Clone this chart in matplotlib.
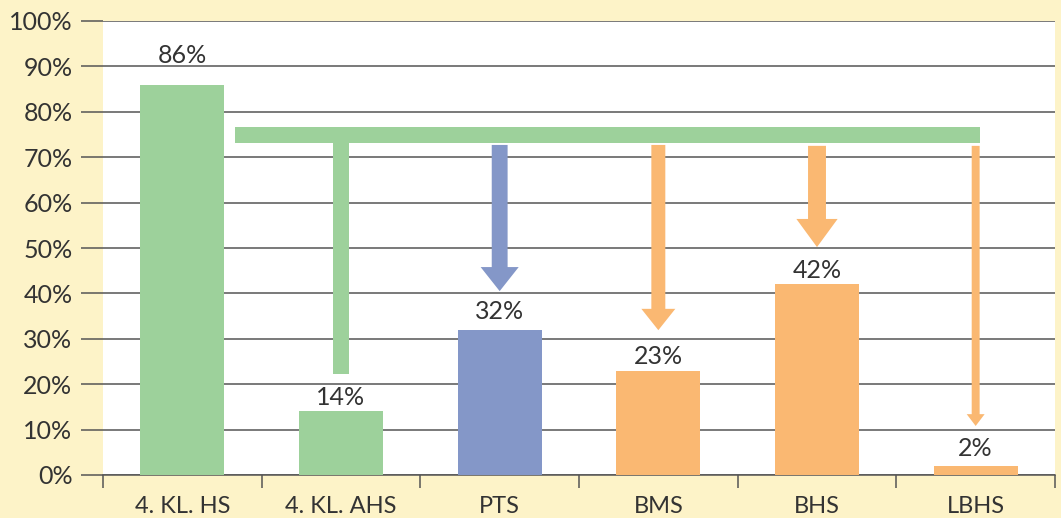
import matplotlib.pyplot as plt
from matplotlib.patches import Polygon

# Daten
kategorien = ['4. KL. HS', '4. KL. AHS', 'PTS', 'BMS', 'BHS', 'LBHS']
werte = [86, 14, 32, 23, 42, 2]
farben = ['#9dd19b', '#9dd19b', '#8497c8', '#fab872', '#fab872', '#fab872']
ytick_werte = list(range(0, 101, 10))
ytick_labels = ['%d%%' % v for v in ytick_werte]

# Verteiler-Balken (gruener Querbalken) in Datenkoordinaten
quer_x = [0.33, 5.03]
quer_y = [73.1, 76.6]

# Pfeile: x-Position, Start (oben), Beginn Spitze, Spitze, Schaftbreite, Spitzenbreite
pfeil_x = [1, 2, 3, 4, 5]
pfeil_oben = [73.1, 72.7, 72.7, 72.5, 72.5]
pfeil_kopf = [22.2, 45.8, 36.6, 56.4, 13.4]
pfeil_spitze = [22.2, 40.5, 31.9, 50.2, 10.8]
pfeil_schaft = [0.10, 0.10, 0.088, 0.113, 0.05]
pfeil_kopfbreite = [0.10, 0.24, 0.214, 0.26, 0.113]
pfeil_farben = ['#9dd19b', '#8497c8', '#fab872', '#fab872', '#fab872']

hintergrund = '#fdf3c8'
textfarbe = '#333333'
linienfarbe = '#555555'

plt.rcParams['font.family'] = ['Lato', 'DejaVu Sans']

fig = plt.figure(figsize=(10.61, 5.18), dpi=100, facecolor=hintergrund)
ax = fig.add_axes([103/1061, 1-475/518, (1055-103)/1061, (475-21)/518])
ax.set_facecolor('white')

x = list(range(len(kategorien)))
ax.bar(x, werte, width=0.53, color=farben, zorder=3)

label_abstand = [13, 2, 5, 2, 2, 4]
for xi, v, d in zip(x, werte, label_abstand):
    ax.annotate('%d%%' % v, (xi, v), xytext=(0, d), textcoords='offset points',
                ha='center', va='bottom', fontsize=18, color=textfarbe, zorder=5)

# Querbalken
ax.fill([quer_x[0], quer_x[1], quer_x[1], quer_x[0]],
        [quer_y[0], quer_y[0], quer_y[1], quer_y[1]], color='#9dd19b', lw=0, zorder=4)

# Pfeile
for px, o, k, s, sw, kw, c in zip(pfeil_x, pfeil_oben, pfeil_kopf, pfeil_spitze,
                                  pfeil_schaft, pfeil_kopfbreite, pfeil_farben):
    pts = [(px - sw/2, o), (px + sw/2, o), (px + sw/2, k), (px + kw/2, k),
           (px, s), (px - kw/2, k), (px - sw/2, k)]
    ax.add_patch(Polygon(pts, closed=True, color=c, lw=0, zorder=4))

ax.set_xlim(-0.5, 5.5)
ax.set_ylim(0, 100)

ax.set_yticks(ytick_werte)
ax.set_yticklabels(ytick_labels)
ax.yaxis.grid(True, color=linienfarbe, lw=1.1, zorder=1)
ax.tick_params(axis='y', length=16, width=1.1, color=linienfarbe, pad=6,
               labelsize=18, labelcolor=textfarbe)

ax.set_xticks(x)
ax.set_xticklabels(kategorien)
ax.set_xticks([i - 0.5 for i in range(len(kategorien) + 1)], minor=True)
ax.tick_params(axis='x', which='major', length=0, pad=15, labelsize=17, labelcolor=textfarbe)
ax.tick_params(axis='x', which='minor', length=9.5, width=1.1, color=linienfarbe)

for s in ['top', 'right', 'left']:
    ax.spines[s].set_visible(False)
ax.spines['bottom'].set_color(linienfarbe)
ax.spines['bottom'].set_linewidth(1.1)
ax.set_axisbelow(True)

plt.savefig('out.png', dpi=100, facecolor=hintergrund)
